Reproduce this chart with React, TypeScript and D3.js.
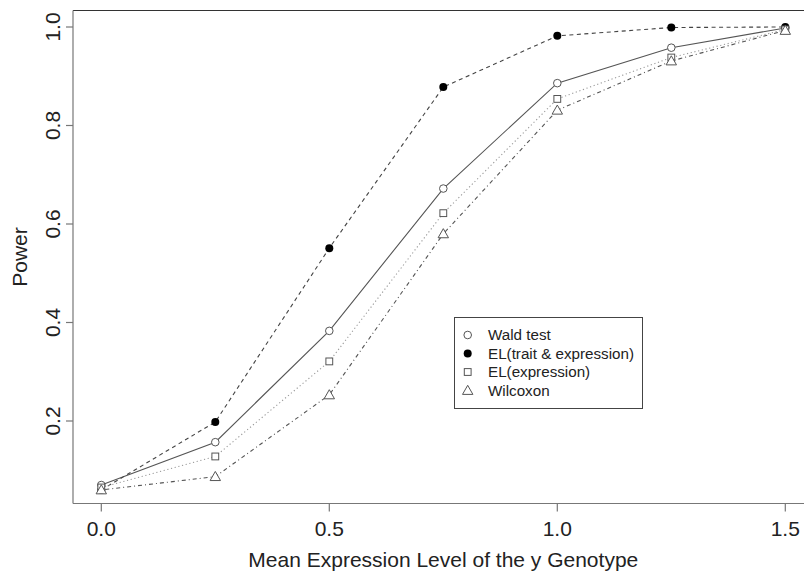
import React, { useEffect, useRef } from "react";
import * as d3 from "d3";

// chart data
const xValues = [0, 0.25, 0.5, 0.75, 1.0, 1.25, 1.5];
const waldTest = [0.07, 0.157, 0.383, 0.672, 0.886, 0.958, 0.998];
const elTraitExpr = [0.06, 0.198, 0.551, 0.878, 0.982, 0.999, 1.0];
const elExpr = [0.065, 0.128, 0.321, 0.622, 0.854, 0.938, 0.995];
const wilcoxon = [0.06, 0.087, 0.253, 0.58, 0.831, 0.931, 0.993];

const xTicks = [0, 0.5, 1.0, 1.5];
const yTicks = [0.2, 0.4, 0.6, 0.8, 1.0];

const seriesNames = ["Wald test", "EL(trait & expression)", "EL(expression)", "Wilcoxon"];

const W = 804;
const H = 572;

const App = () => {
  const svgRef = useRef<SVGSVGElement>(null);

  useEffect(() => {
    const svg = d3.select(svgRef.current);
    svg.selectAll("*").remove();

    const font = "'Liberation Sans', Arial, sans-serif";
    // plot box runs past the right edge of the picture
    const box = { left: 73, top: 10.5, right: 810, bottom: 503.5 };

    const x = d3.scaleLinear().domain([0, 1.5]).range([101.3, 785.3]);
    const y = d3.scaleLinear().domain([0.2, 1.0]).range([421, 27]);

    const series = [
      { name: seriesNames[0], values: waldTest, dash: null, color: "#555", sym: "circle" },
      { name: seriesNames[1], values: elTraitExpr, dash: "4,3.5", color: "#444", sym: "dot" },
      { name: seriesNames[2], values: elExpr, dash: "1.2,2.6", color: "#999", sym: "square" },
      { name: seriesNames[3], values: wilcoxon, dash: "1,3,4,3", color: "#555", sym: "triangle" },
    ];

    const drawSymbol = (g, sym, cx, cy) => {
      if (sym === "circle") {
        g.append("circle").attr("cx", cx).attr("cy", cy).attr("r", 3.8)
          .attr("fill", "white").attr("stroke", "#555").attr("stroke-width", 1);
      } else if (sym === "dot") {
        g.append("circle").attr("cx", cx).attr("cy", cy).attr("r", 4)
          .attr("fill", "#000");
      } else if (sym === "square") {
        g.append("rect").attr("x", cx - 3.4).attr("y", cy - 3.4).attr("width", 6.8).attr("height", 6.8)
          .attr("fill", "white").attr("stroke", "#555").attr("stroke-width", 1);
      } else {
        const s = 5.2;
        g.append("path")
          .attr("d", `M${cx},${cy - s}L${cx + s},${cy + s * 0.75}L${cx - s},${cy + s * 0.75}Z`)
          .attr("fill", "white").attr("stroke", "#555").attr("stroke-width", 1);
      }
    };

    // lines
    const line = d3.line<number>()
      .x((d, i) => x(xValues[i]))
      .y((d) => y(d));

    series.forEach((s) => {
      svg.append("path")
        .datum(s.values)
        .attr("d", line)
        .attr("fill", "none")
        .attr("stroke", s.color)
        .attr("stroke-width", 1.1)
        .attr("stroke-dasharray", s.dash);
    });

    // points
    const pts = svg.append("g");
    series.forEach((s) => {
      s.values.forEach((v, i) => drawSymbol(pts, s.sym, x(xValues[i]), y(v)));
    });

    // box (top dark, left/bottom grey)
    svg.append("line").attr("x1", box.left).attr("x2", box.right).attr("y1", box.top).attr("y2", box.top)
      .attr("stroke", "#333");
    svg.append("line").attr("x1", box.left).attr("x2", box.left).attr("y1", box.top).attr("y2", box.bottom)
      .attr("stroke", "#777").attr("stroke-width", 1.2);
    svg.append("line").attr("x1", box.left).attr("x2", box.right).attr("y1", box.bottom).attr("y2", box.bottom)
      .attr("stroke", "#777").attr("stroke-width", 1.2);

    // x axis ticks
    xTicks.forEach((t) => {
      svg.append("line").attr("x1", x(t)).attr("x2", x(t)).attr("y1", box.bottom).attr("y2", box.bottom + 8)
        .attr("stroke", "#777").attr("stroke-width", 1.2);
      svg.append("text").attr("x", x(t)).attr("y", 536)
        .attr("text-anchor", "middle").attr("font-family", font).attr("font-size", 21)
        .attr("fill", "#222").text(d3.format(".1f")(t));
    });

    // y axis ticks
    yTicks.forEach((t) => {
      svg.append("line").attr("x1", box.left - 7).attr("x2", box.left).attr("y1", y(t)).attr("y2", y(t))
        .attr("stroke", "#777").attr("stroke-width", 1.2);
      svg.append("text")
        .attr("transform", `translate(60,${y(t)}) rotate(-90)`)
        .attr("text-anchor", "middle").attr("font-family", font).attr("font-size", 21)
        .attr("fill", "#222").text(d3.format(".1f")(t));
    });

    // axis titles
    svg.append("text").attr("x", (x(0) + x(1.5)) / 2).attr("y", 567)
      .attr("text-anchor", "middle").attr("font-family", font).attr("font-size", 21)
      .attr("fill", "#222").text("Mean Expression Level of the y Genotype");
    svg.append("text")
      .attr("transform", `translate(27,${(box.top + box.bottom) / 2}) rotate(-90)`)
      .attr("text-anchor", "middle").attr("font-family", font).attr("font-size", 21)
      .attr("fill", "#222").text("Power");

    // legend
    const lg = svg.append("g");
    const rowY = [335, 353.5, 372, 390.5];
    lg.append("rect").attr("x", 454.5).attr("y", 317.5).attr("width", 188).attr("height", 91)
      .attr("fill", "white").attr("stroke", "#444").attr("stroke-width", 1);
    series.forEach((s, i) => {
      drawSymbol(lg, s.sym, 467.7, rowY[i]);
      lg.append("text").attr("x", 488).attr("y", rowY[i] + 5.3)
        .attr("font-family", font).attr("font-size", 15.2).attr("fill", "#222").text(s.name);
    });
  }, []);

  return (
    <svg
      ref={svgRef}
      width={W}
      height={H}
      style={{ position: "absolute", left: 0, top: 0, background: "white" }}
    />
  );
};

export default App;
